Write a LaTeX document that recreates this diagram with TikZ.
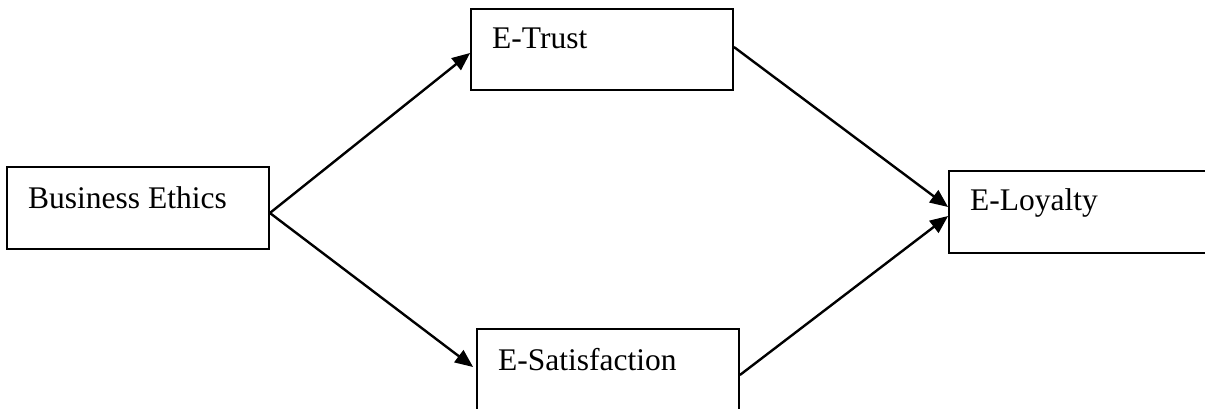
\documentclass[tikz,border=0pt]{standalone}
\usepackage{fontspec}
\setmainfont{Liberation Serif}
\usetikzlibrary{arrows.meta,calc}
\begin{document}
\begin{tikzpicture}[x=1pt,y=-1pt,
  box/.style={draw=black,line width=1.8pt,rectangle,inner sep=0pt,minimum width=262pt,minimum height=82pt},
  lbl/.style={anchor=base west,inner sep=0pt,font=\fontsize{31.5}{36}\selectfont},
  conn/.style={line width=2.4pt,-{Triangle[length=18pt,width=15pt]}}]
\clip (0,0) rectangle (1205,409);
\fill[white] (0,0) rectangle (1205,409);
\node[box] (BE) at (138,208) {};
\node[box,minimum height=81pt] (ET) at (602,49.5) {};
\node[box] (ES) at (608,370) {};
\node[box] (EL) at (1080,212) {};
\node[lbl] (tBE) at (28,208) {Business Ethics};
\node[lbl] (tET) at (492,49) {E-Trust};
\node[lbl] (tES) at (498,370) {E-Satisfaction};
\node[lbl] (tEL) at (970,211) {E-Loyalty};
\draw[conn] ($(BE.east)+(0,5)$) -- ($(ET.west)+(0,3.5)$);
\draw[conn] ($(BE.east)+(0,5)$) -- ($(ES.west)+(-3,-3)$);
\draw[conn] ($(ET.east)+(0,-2.5)$) -- ($(EL.west)+(0,-5)$);
\draw[conn] ($(ES.east)+(0,5)$) -- ($(EL.west)+(0,4)$);
\end{tikzpicture}
\end{document}
